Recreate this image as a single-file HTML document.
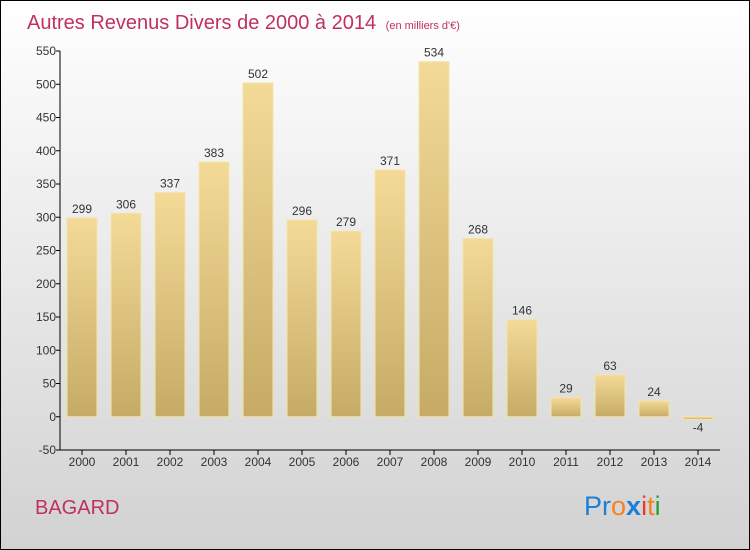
<!DOCTYPE html>
<html><head><meta charset="utf-8"><style>
body{margin:0;}
svg{display:block;font-family:"Liberation Sans",sans-serif;}
</style></head><body>
<svg id="chart" width="750" height="550" viewBox="0 0 750 550">
<defs>
<linearGradient id="bg" x1="0" y1="0" x2="0" y2="1"><stop offset="0" stop-color="#ffffff"/><stop offset="1" stop-color="#d2d2d2"/></linearGradient>
<linearGradient id="bar" x1="0" y1="0" x2="0" y2="1"><stop offset="0" stop-color="#f3da96"/><stop offset="1" stop-color="#c6ab66"/></linearGradient>
</defs>
<rect x="0.5" y="0.5" width="749" height="549" fill="url(#bg)" stroke="#000"/>
<text x="27" y="29" font-size="20" fill="#c0305f">Autres Revenus Divers de 2000 à 2014 <tspan font-size="11" dx="4">(en milliers d'€)</tspan></text>
<g id="plot"></g>
<text x="35" y="514" font-size="20" fill="#c0305f">BAGARD</text>
<text x="584" y="515" font-size="27"><tspan fill="#1a7fd6">Pr</tspan><tspan fill="#f58220">o</tspan><tspan fill="#1a7fd6" font-weight="bold">x</tspan><tspan fill="#e53c2e">i</tspan><tspan fill="#f58220">t</tspan><tspan fill="#2a9d3a">i</tspan></text>
</svg>
<script>
const categories=["2000","2001","2002","2003","2004","2005","2006","2007","2008","2009","2010","2011","2012","2013","2014"];
const values=[299,306,337,383,502,296,279,371,534,268,146,29,63,24,-4];
const yTicks=[-50,0,50,100,150,200,250,300,350,400,450,500,550];
const NS="http://www.w3.org/2000/svg";
const g=document.getElementById('plot');
const x0=60,x1=720,yTop=51,yBot=450,vMin=-50,vMax=550;
const y=v=>yBot-(v-vMin)/(vMax-vMin)*(yBot-yTop);
const step=44,first=82;
const xc=i=>first+i*step;
function mk(t,a){const e=document.createElementNS(NS,t);for(const k in a)e.setAttribute(k,a[k]);g.appendChild(e);return e;}
let e=mk('line',{x1:x0,y1:yTop,x2:x0,y2:yBot,stroke:'#000'});


e=mk('line',{x1:x0,y1:yBot,x2:x1,y2:yBot,stroke:'#000'});


yTicks.forEach(v=>{
 const t=mk('line',{x1:x0-4,y1:y(v),x2:x0,y2:y(v),stroke:'#000'});
 
 
 const l=mk('text',{x:x0-4,y:y(v)+4,'font-size':12,fill:'#333','text-anchor':'end'});
 l.textContent=v;
 
 
});
categories.forEach((c,i)=>{
 const t=mk('line',{x1:xc(i),y1:yBot,x2:xc(i),y2:yBot+5,stroke:'#000'});
 
 
 const l=mk('text',{x:xc(i),y:yBot+16,'font-size':12,fill:'#333','text-anchor':'middle'});
 l.textContent=c;
 
 
 const v=values[i];
 const top=Math.min(y(v),y(0)),h=Math.max(Math.abs(y(v)-y(0)),2);
 const b=mk('rect',{x:xc(i)-15,y:top,width:30,height:h,fill:'url(#bar)',stroke:'#f5e3ad','stroke-width':1});
 
 
 const vl=mk('text',{x:xc(i),y:v>=0?y(v)-5:y(0)+h+12,'font-size':12,fill:'#333','text-anchor':'middle'});
 vl.textContent=v;
 
 
});
</script>
</body></html>
